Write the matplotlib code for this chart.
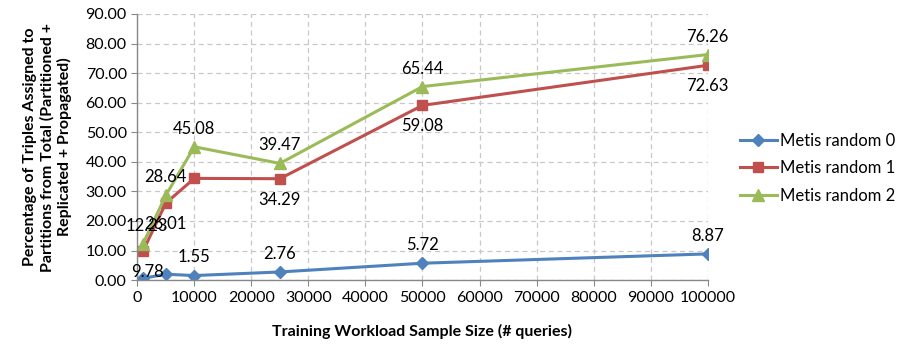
import matplotlib
matplotlib.use("Agg")
import matplotlib.pyplot as plt

plt.rcParams['font.family'] = ['Lato', 'DejaVu Sans']

x = [1000, 5000, 10000, 25000, 50000, 100000]
series_names = ["Metis random 0", "Metis random 1", "Metis random 2"]
random0 = [0.6, 2.0, 1.55, 2.76, 5.72, 8.87]
random1 = [9.78, 26.01, 34.4, 34.29, 59.08, 72.63]
random2 = [12.23, 28.64, 45.08, 39.47, 65.44, 76.26]
labels0 = [None, None, "1.55", "2.76", "5.72", "8.87"]
labels1 = ["9.78", "26.01", None, "34.29", "59.08", "72.63"]
labels2 = ["12.23", "28.64", "45.08", "39.47", "65.44", "76.26"]

colors = ["#4F81BD", "#C0504D", "#9BBB59"]
markers = ["D", "s", "^"]
msizes = [6, 7, 8]

fig = plt.figure(figsize=(8.97, 3.48), dpi=100)
ax = fig.add_axes([0.153, 0.195, 0.636, 0.765])

for vals, c, m, ms, name in zip([random0, random1, random2], colors, markers, msizes, series_names):
    ax.plot(x, vals, color=c, marker=m, markersize=ms, linewidth=2.2, label=name)

def annotate(vals, labs, dy):
    for i, (xi, v, l) in enumerate(zip(x, vals, labs)):
        if l is None:
            continue
        dx = 3 if i == 0 else 0
        ax.annotate(l, (xi, v), xytext=(dx, dy), textcoords="offset points",
                    ha="center", va="center", fontsize=12, color="black")

annotate(random0, labels0, 13)
annotate(random1, labels1, -15)
annotate(random2, labels2, 13)

ax.set_xlim(0, 100000)
ax.set_ylim(0, 90)
ax.set_xticks(range(0, 100001, 10000))
ax.set_yticks(range(0, 91, 10))
ax.set_yticklabels([f"{v:.2f}" for v in range(0, 91, 10)])
ax.tick_params(labelsize=11.5, length=4, color="#888888")
ax.grid(True, color="#C8C8C8", linestyle=(0, (4, 3)), linewidth=0.9)
ax.set_axisbelow(True)
for s in ["top", "right"]:
    ax.spines[s].set_visible(False)
for s in ["left", "bottom"]:
    ax.spines[s].set_color("#888888")
    ax.spines[s].set_linewidth(1.0)

ax.set_xlabel("Training Workload Sample Size (# queries)", fontsize=11.5, fontweight="bold", labelpad=14)
ax.set_ylabel("Percentage of Triples Assigned to\nPartitions from Total (Partitioned +\nReplicated + Propagated)",
              fontsize=11.5, fontweight="bold", labelpad=10)

ax.legend(loc="center left", bbox_to_anchor=(1.03, 0.42), frameon=False, fontsize=12,
          handlelength=2.2, handletextpad=0.2, labelspacing=0.7)

fig.savefig("out.png", dpi=100)
